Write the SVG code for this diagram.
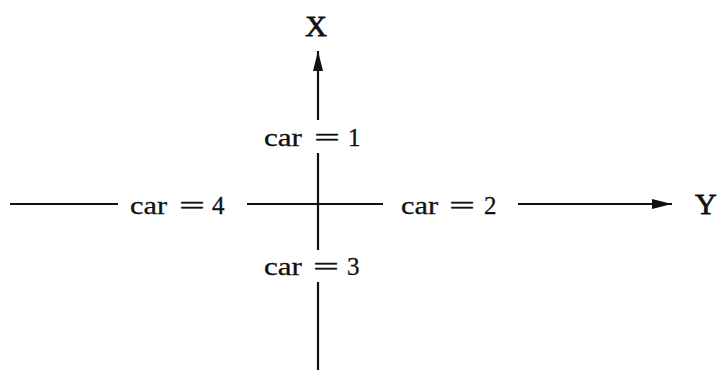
<svg xmlns="http://www.w3.org/2000/svg" width="718" height="370" viewBox="0 0 718 370">
<style>
.ax{stroke:#111;stroke-width:2.2;fill:none}
.lbl{font-family:"Liberation Serif","Times New Roman",serif;font-size:25px;fill:#111;stroke:#111;stroke-width:0.3}
.axl{font-family:"Liberation Serif","Times New Roman",serif;font-size:30px;fill:#111;stroke:#111;stroke-width:0.8}
</style>
<defs>
<marker id="ah" viewBox="0 0 20 12" refX="20" refY="6" markerWidth="20" markerHeight="12" markerUnits="userSpaceOnUse" orient="auto">
<path d="M0,1 L20,6 L0,11 Z" fill="#111"/>
</marker>
</defs>
<rect width="718" height="370" fill="#fff"/>
<g id="connectors">
<line class="ax" x1="318" y1="120" x2="318" y2="51" marker-end="url(#ah)"/>
<line class="ax" x1="318" y1="153" x2="318" y2="250"/>
<line class="ax" x1="318" y1="282" x2="318" y2="370"/>
<line class="ax" x1="10" y1="204" x2="118" y2="204"/>
<line class="ax" x1="247" y1="204" x2="383" y2="204"/>
<line class="ax" x1="518" y1="204" x2="672" y2="204" marker-end="url(#ah)"/>
</g>
<g id="axisX"><text class="axl" x="316" y="36" text-anchor="middle">X</text></g>
<g id="axisY"><text class="axl" x="695" y="214">Y</text></g>
<g id="car1"><text class="lbl" y="146"><tspan x="264" textLength="38" lengthAdjust="spacingAndGlyphs">car</tspan> <tspan x="314" textLength="26" lengthAdjust="spacingAndGlyphs">=</tspan> <tspan x="348">1</tspan></text></g>
<g id="car2"><text class="lbl" y="214"><tspan x="401" textLength="37" lengthAdjust="spacingAndGlyphs">car</tspan> <tspan x="449" textLength="26" lengthAdjust="spacingAndGlyphs">=</tspan> <tspan x="484">2</tspan></text></g>
<g id="car3"><text class="lbl" y="275"><tspan x="264" textLength="38" lengthAdjust="spacingAndGlyphs">car</tspan> <tspan x="313" textLength="26" lengthAdjust="spacingAndGlyphs">=</tspan> <tspan x="347">3</tspan></text></g>
<g id="car4"><text class="lbl" y="214"><tspan x="130" textLength="37" lengthAdjust="spacingAndGlyphs">car</tspan> <tspan x="179" textLength="26" lengthAdjust="spacingAndGlyphs">=</tspan> <tspan x="212">4</tspan></text></g>
</svg>
